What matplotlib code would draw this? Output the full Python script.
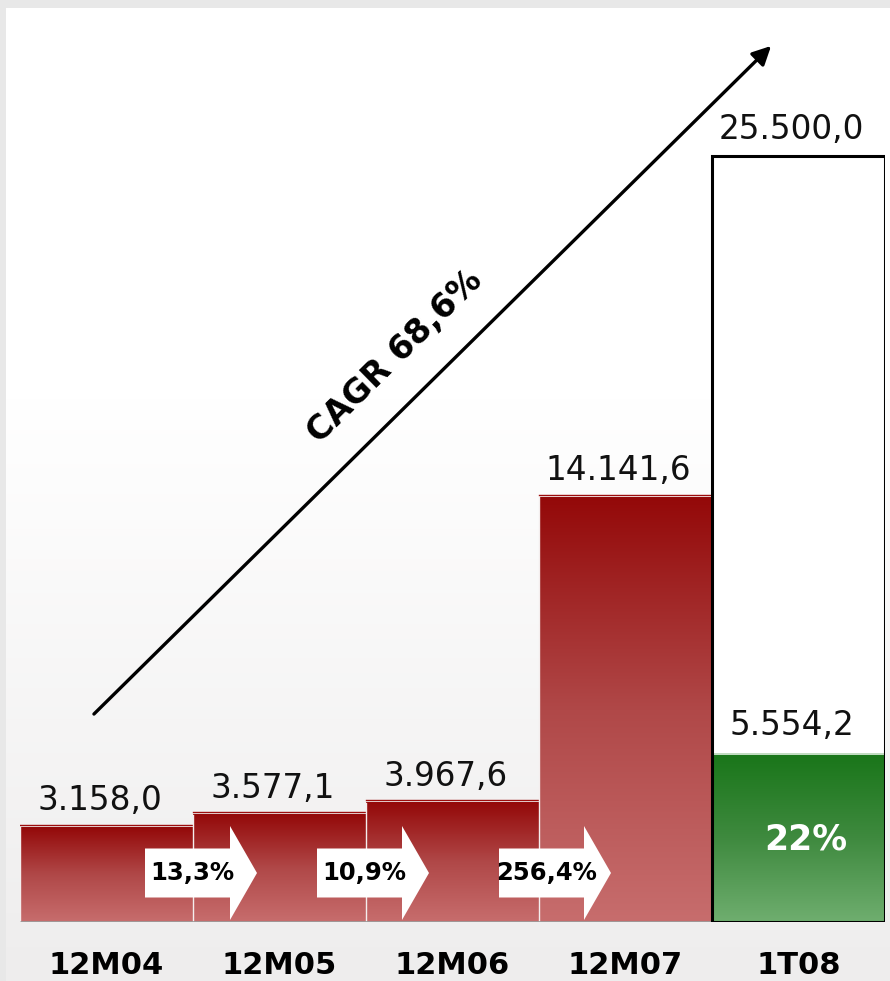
import numpy as np
import matplotlib
matplotlib.use("Agg")
import matplotlib.pyplot as plt
from matplotlib.colors import LinearSegmentedColormap
from matplotlib.patches import Rectangle, Polygon

# data
categories = ["12M04", "12M05", "12M06", "12M07", "1T08"]
values = [3158.0, 3577.1, 3967.6, 14141.6, 25500.0]
value_labels = ["3.158,0", "3.577,1", "3.967,6", "14.141,6", "25.500,0"]
achieved = 5554.2
achieved_label = "5.554,2"
achieved_pct = "22%"
growth_labels = ["13,3%", "10,9%", "256,4%"]
cagr_label = "CAGR 68,6%"

W, H = 890, 981
fig = plt.figure(figsize=(W / 100, H / 100), dpi=100)
fig.patch.set_facecolor("#e8e8e8")

# background panel with soft vertical gradient
bg = fig.add_axes([6 / W, 0, 1 - 6 / W, (H - 8) / H])
grad = np.linspace(0, 1, 256)
grad = np.clip((grad - 0.4) / 0.6, 0, 1)[:, None]
bg_cmap = LinearSegmentedColormap.from_list("bg", ["#ffffff", "#eeeded"])
bg.imshow(grad, aspect="auto", cmap=bg_cmap, extent=[0, 1, 0, 1], origin="upper")
bg.axis("off")

# main axes: 173 px per bar, baseline at 922 px
px_per_unit = 766 / 25500
ymax = 30000
ax = fig.add_axes([20 / W, 59 / H, 865 / W, ymax * px_per_unit / H])
ax.set_xlim(-0.5, 4.5)
ax.set_ylim(0, ymax)
ax.axis("off")
ax.patch.set_alpha(0)

u = 1 / px_per_unit  # data units per pixel (vertical)
bx = 1 / 173  # data units per pixel (horizontal)

red_cmap = LinearSegmentedColormap.from_list("red", ["#c76d6d", "#b04848", "#940909"])
green_cmap = LinearSegmentedColormap.from_list("green", ["#6fae6f", "#3f8a3f", "#1a761a"])
ramp = np.linspace(0, 1, 256)[:, None]

# red bars
for i in range(4):
    v = values[i]
    ax.imshow(ramp, aspect="auto", cmap=red_cmap, origin="lower",
              extent=[i - 0.5, i + 0.5, 0, v], zorder=2)
    ax.plot([i - 0.5, i + 0.5], [v + 2.5 * u] * 2, color="#9c0d0d", lw=1.0, zorder=2)
    ax.plot([i - 0.5, i - 0.5], [0, v], color="#f4eeee", lw=1, zorder=3)
    ax.text(i - 0.04, v + 17 * u, value_labels[i], ha="center", va="baseline",
            fontsize=23.5, color="#111111", zorder=5)

# baseline
ax.plot([-0.5, 3.5], [0, 0], color="#9c9c9c", lw=2, zorder=3, solid_capstyle="butt")

# target bar with achieved part
ax.add_patch(Rectangle((3.5, 0), 1, values[4], facecolor="white", edgecolor="none", zorder=1))
ax.imshow(ramp, aspect="auto", cmap=green_cmap, origin="lower",
          extent=[3.5, 4.5, 0, achieved], zorder=2)
ax.plot([3.5, 4.5], [achieved + 1.5 * u] * 2, color="#b5d6b5", lw=1.2, zorder=2)
ax.add_patch(Rectangle((3.5, 0), 1, values[4], facecolor="none", edgecolor="black",
                       lw=2.2, zorder=4))
ax.text(4 - 0.04, values[4] + 17 * u, value_labels[4], ha="center", va="baseline",
        fontsize=23.5, color="#111111", zorder=5)
ax.text(4 - 0.04, achieved + 20 * u, achieved_label, ha="center", va="baseline",
        fontsize=23.5, color="#111111", zorder=5)
ax.text(4.043, 83 * u, achieved_pct, ha="center", va="center", fontsize=25,
        fontweight="bold", color="white", zorder=5)

# growth arrows between bars
shift = [0, -1, 8]
for k, lab in enumerate(growth_labels):
    b = k + 0.5 + shift[k] * bx
    x0, x1, x2 = b - 48 * bx, b + 37 * bx, b + 64 * bx
    yc = 49 * u
    bh, hh = 24.5 * u, 47 * u
    pts = [(x0, yc - bh), (x1, yc - bh), (x1, yc - hh), (x2, yc),
           (x1, yc + hh), (x1, yc + bh), (x0, yc + bh)]
    ax.add_patch(Polygon(pts, closed=True, facecolor="white", edgecolor="none", zorder=5))
    ax.text((x0 + x1) / 2 + 5 * bx, yc, lab, ha="center", va="center", fontsize=17.5,
            fontweight="bold", color="black", zorder=6)

# category labels (kept just inside the bottom edge)
for i, c in enumerate(categories):
    ax.text(i, -29 * u, c, ha="center", va="top", fontsize=22, fontweight="bold",
            color="black", clip_on=False)

# CAGR arrow
ax.annotate("", xy=(3.853, 29229), xytext=(-0.084, 6858),
            arrowprops=dict(arrowstyle="-|>", lw=2.4, color="black", mutation_scale=28),
            zorder=6)
ax.text(1.668, 18809, cagr_label, rotation=44.6, rotation_mode="anchor",
        ha="center", va="center", fontsize=24, fontweight="bold", color="black", zorder=6)

fig.savefig("out.png", dpi=100)
